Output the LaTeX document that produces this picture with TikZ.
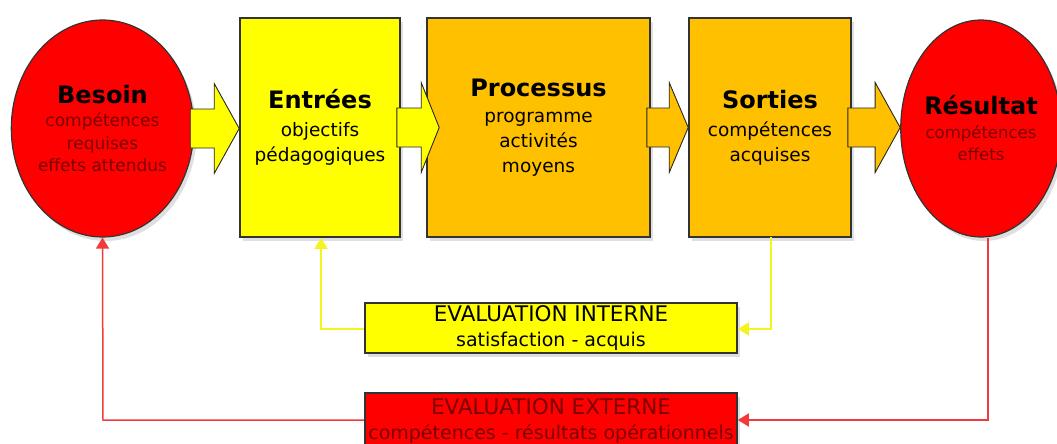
\documentclass[tikz,border=0pt]{standalone}
\usepackage{fontspec}
\setmainfont{DejaVu Sans}
\usetikzlibrary{shapes.geometric,arrows.meta,calc,shadows}

\definecolor{cRed}{HTML}{FF0000}
\definecolor{cYellow}{HTML}{FFFF00}
\definecolor{cOrange}{HTML}{FFC000}
\definecolor{cDarkRed}{HTML}{7A0000}
\definecolor{cLineRed}{HTML}{F23A3A}
\definecolor{cLineYellow}{HTML}{F4F420}

\newcommand{\ttl}[1]{{\fontsize{24}{28}\selectfont\bfseries #1}}
\newcommand{\caps}[1]{{\fontsize{21.5}{25}\selectfont #1}}

\tikzset{
  softshadow/.style={drop shadow={opacity=0.25,shadow xshift=3pt,shadow yshift=-4pt}},
  stage/.style={draw=black!80,line width=1.6pt,rectangle,inner sep=0pt,align=center,
    softshadow,font=\fontsize{18.5}{25}\selectfont},
  goal/.style={draw=black!80,line width=1.2pt,ellipse,inner sep=0pt,align=center,
    fill=cRed,softshadow,font=\fontsize{17}{22.5}\selectfont},
  evalbox/.style={draw=black!80,line width=1.6pt,rectangle,inner sep=0pt,align=center,
    softshadow,font=\fontsize{19}{25}\selectfont},
  feedback/.style={line width=1.5pt,-{Triangle[length=11pt,width=13pt]}},
}

% block arrow from the east side of #1 to the west side of #2;
% #3 = colour, #4 = head length, #5 = overlap of the tip into #2
\newcommand{\blockarrow}[5]{%
  \filldraw[fill=#3,draw=black!85,line width=0.9pt]
    let \p1=(#1.east), \p2=(#2.west) in
    (\x1-4pt,\y1+19.5pt) -- (\x2+#5-#4,\y1+19.5pt) -- (\x2+#5-#4,\y1+45pt)
    -- (\x2+#5,\y1) -- (\x2+#5-#4,\y1-45pt) -- (\x2+#5-#4,\y1-19.5pt)
    -- (\x1-4pt,\y1-19.5pt) -- cycle;}

\begin{document}
\begin{tikzpicture}[x=1pt,y=-1pt]
\useasboundingbox (0,0) rectangle (1057,444);

% evaluation boxes
\node[evalbox,fill=cYellow,minimum width=372pt,minimum height=50pt]
  (interne) at (551,328) {\caps{EVALUATION INTERNE}\\satisfaction - acquis};
\node[evalbox,fill=cRed,text=cDarkRed,minimum width=372pt,minimum height=56pt]
  (externe) at (551,421) {\caps{EVALUATION EXTERNE}\\compétences - résultats opérationnels};

% main chain
\node[goal,minimum width=175pt,minimum height=217pt] (besoin) at (102.5,128.5)
  {\ttl{Besoin}\\[1pt]{\color{cDarkRed}compétences}\\{\color{cDarkRed}requises}\\{\color{cDarkRed}effets attendus}};
\node[goal,minimum width=158pt,minimum height=217pt,font=\fontsize{16.5}{22.5}\selectfont]
  (resultat) at (981,128.5)
  {\ttl{Résultat}\\[1pt]{\color{cDarkRed}compétences}\\{\color{cDarkRed}effets}};

\node[stage,fill=cYellow,minimum width=160pt,minimum height=219pt] (entrees) at (320,127.5)
  {\ttl{Entrées}\\[3pt]objectifs\\pédagogiques};
\node[stage,fill=cOrange,minimum width=223pt,minimum height=219pt] (processus) at (538.5,127.5)
  {\ttl{Processus}\\[1pt]programme\\activités\\moyens};
\node[stage,fill=cOrange,minimum width=162pt,minimum height=219pt] (sorties) at (770,127.5)
  {\ttl{Sorties}\\[3pt]compétences\\acquises};

% block arrows between the stages
\blockarrow{besoin}{entrees}{cYellow}{25pt}{0pt}
\blockarrow{entrees}{processus}{cYellow}{18pt}{13pt}
\blockarrow{processus}{sorties}{cOrange}{19pt}{0pt}
\blockarrow{sorties}{resultat}{cOrange}{25pt}{0pt}

% internal evaluation loop
\coordinate (sOut) at (771,237);
\coordinate (sBend) at (771,329);
\coordinate (eBend) at (321,329);
\coordinate (eIn) at (321,237);
\draw[feedback,cLineYellow] (sOut) -- (sBend) -- (interne.east |- sBend);
\draw[feedback,cLineYellow] (interne.west |- eBend) -- (eBend) -- (entrees.south -| eIn);

% external evaluation loop
\coordinate (rOut) at (988,237);
\coordinate (rBend) at (988,420);
\coordinate (bBend) at (103,420);
\draw[feedback,cLineRed] (resultat.south -| rOut) -- (rBend) -- (externe.east |- rBend);
\draw[feedback,cLineRed] (externe.west |- bBend) -- (bBend) -- (besoin.south);
\end{tikzpicture}
\end{document}
